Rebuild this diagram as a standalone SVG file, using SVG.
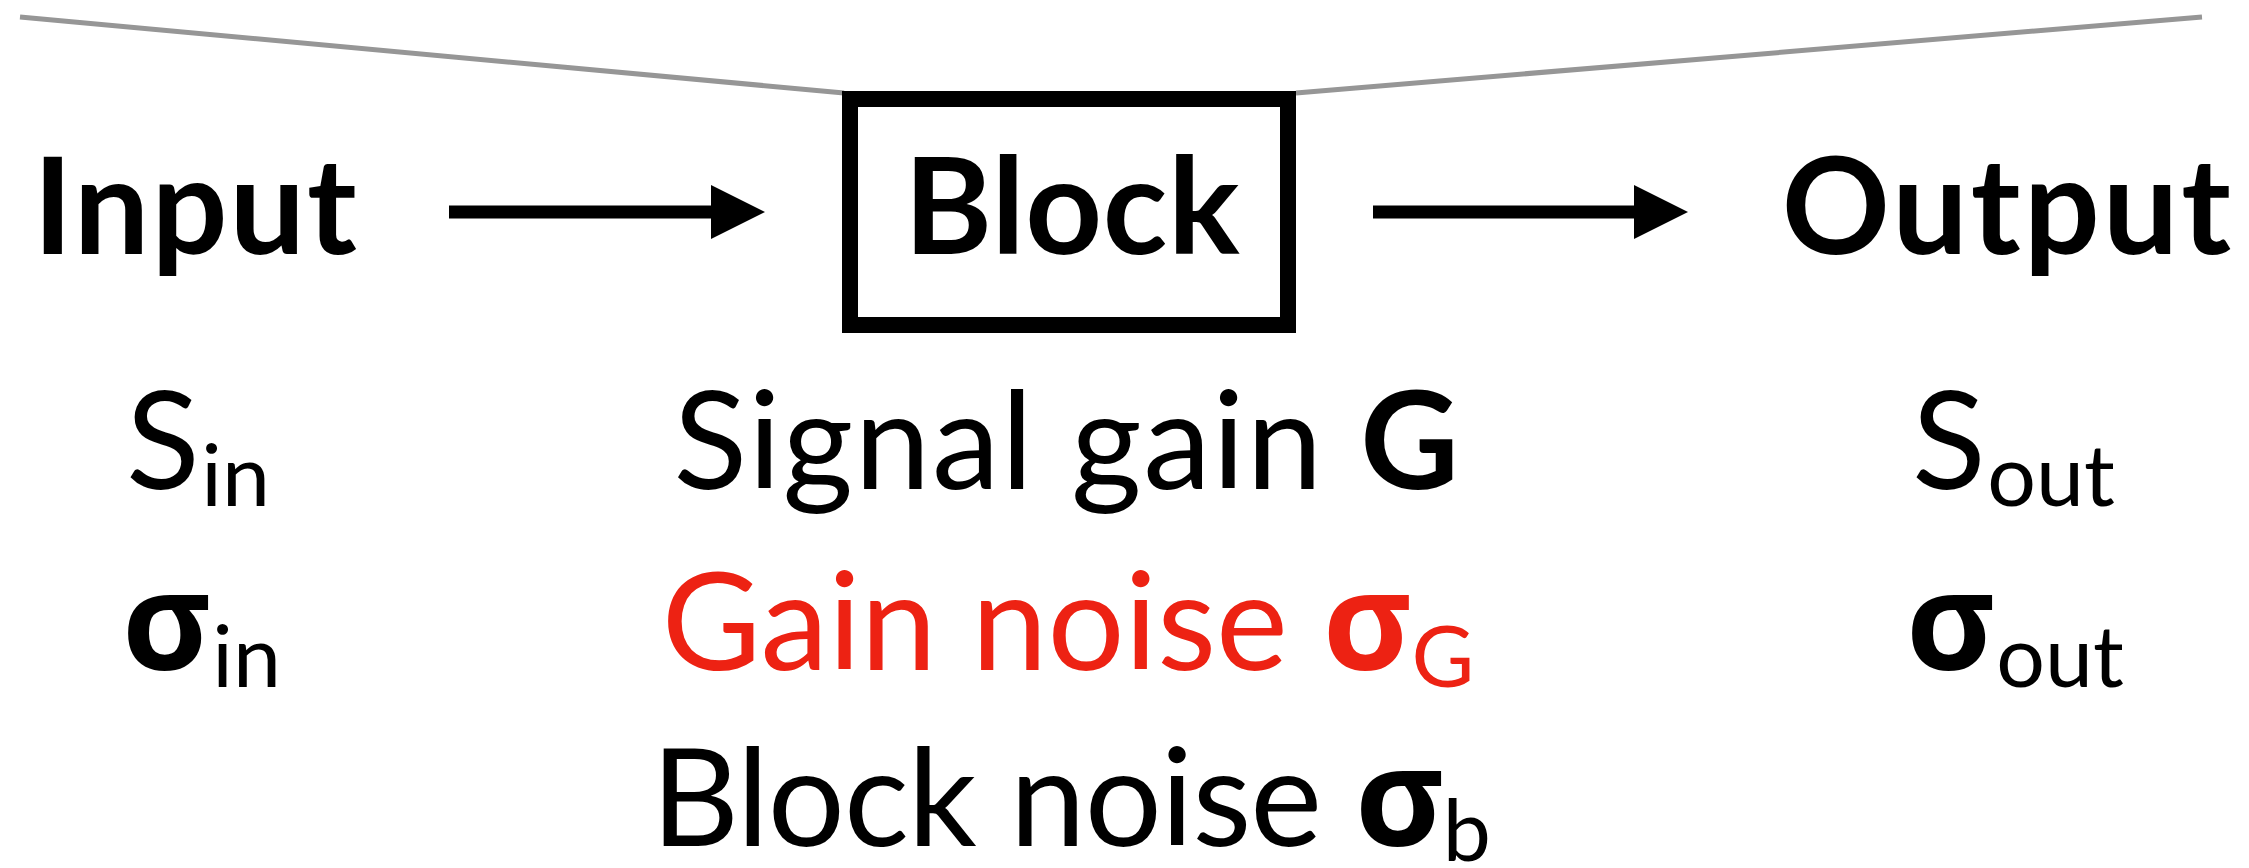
<svg xmlns="http://www.w3.org/2000/svg" width="2249" height="868" viewBox="0 0 2249 868">
<style>
  .t { font-family: Lato, "Open Sans", "DejaVu Sans", sans-serif; fill: #000; }
  .big { font-size: 134px; font-weight: 700; }
  .mid { font-size: 136px; font-weight: 400; }
  .ls15 { letter-spacing: 1.5px; }
  .ls0 { letter-spacing: 0; }
  .lsn { letter-spacing: -1px; }
  .sub { font-size: 86px; font-weight: 400; letter-spacing: 0; }
  .sig { font-family: "Open Sans", "Noto Sans", "DejaVu Sans", sans-serif; font-weight: 700; }
  .red { fill: #ED2213; }
  .call { stroke: #969696; stroke-width: 5; fill: none; }
  .conn { stroke: #000; stroke-width: 13; fill: none; }
</style>
<defs>
  <marker id="head" markerUnits="userSpaceOnUse" markerWidth="54" markerHeight="54" refX="0" refY="27" orient="auto" viewBox="0 0 54 54">
    <path d="M0,0 L54,27 L0,54 Z" fill="#000"/>
  </marker>
</defs>
<rect width="2249" height="868" fill="#fff"/>
<g id="callout">
  <line class="call" x1="20" y1="17" x2="844" y2="93"/>
  <line class="call" x1="1296" y1="93" x2="2202" y2="17"/>
</g>
<g id="connectors">
  <line class="conn" x1="449" y1="212" x2="711" y2="212" marker-end="url(#head)"/>
  <line class="conn" x1="1373" y1="212" x2="1634" y2="212" marker-end="url(#head)"/>
</g>
<g id="input">
  <text class="t big" x="196" y="254" text-anchor="middle" style="letter-spacing:2px">Input</text>
</g>
<g id="block">
  <rect x="850" y="99" width="438" height="226" fill="none" stroke="#000" stroke-width="16"/>
  <text class="t big" x="1072" y="254" text-anchor="middle" style="letter-spacing:0.5px">Block</text>
</g>
<g id="output">
  <text class="t big" x="2008" y="254" text-anchor="middle" style="letter-spacing:3px">Output</text>
</g>
<g id="input-params">
  <text class="t mid ls15" x="126" y="489">S<tspan class="sub" dy="17">in</tspan></text>
  <text class="t mid ls15" x="122" y="670"><tspan class="sig">σ</tspan><tspan class="sub" dy="17">in</tspan></text>
</g>
<g id="block-params">
  <text class="t mid ls15" x="1067" y="489" text-anchor="middle">Signal gain <tspan font-weight="700">G</tspan></text>
  <text class="t mid red ls0" x="1068" y="670" text-anchor="middle">Gain noise <tspan class="sig">σ</tspan><tspan class="sub" dy="17">G</tspan></text>
  <text class="t mid lsn" x="1071" y="846" text-anchor="middle">Block noise <tspan class="sig">σ</tspan><tspan class="sub" dy="15">b</tspan></text>
</g>
<g id="output-params">
  <text class="t mid ls15" x="1912" y="489">S<tspan class="sub" dy="17">out</tspan></text>
  <text class="t mid ls15" x="1906" y="670"><tspan class="sig">σ</tspan><tspan class="sub" dy="17">out</tspan></text>
</g>
</svg>
